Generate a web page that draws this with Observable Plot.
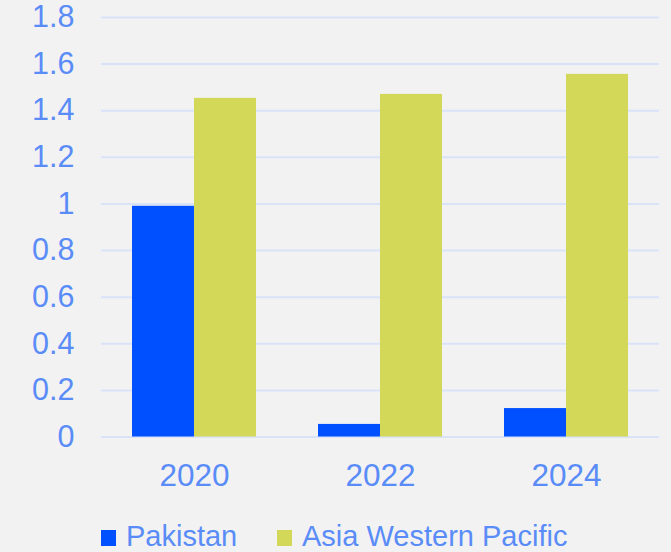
<!DOCTYPE html>
<html>
<head>
<meta charset="utf-8">
<script src="https://cdn.jsdelivr.net/npm/d3@7"></script>
<script src="https://cdn.jsdelivr.net/npm/@observablehq/plot@0.6"></script>
<style>
  html, body { margin: 0; padding: 0; background: #f2f2f2; }
  body { width: 671px; height: 552px; overflow: hidden; font-family: "Liberation Sans", Arial, sans-serif; }
  #legend { position: relative; height: 52px; color: #5a8cf8; font-size: 29px; }
  .item { position: absolute; top: 20px; display: flex; align-items: center; white-space: nowrap; }
  .sw { width: 15px; height: 16px; margin-right: 10px; margin-top: 2px; }
</style>
</head>
<body>
<div id="chart"></div>
<div id="legend"></div>
<script>
const years = ["2020", "2022", "2024"];
const seriesNames = ["Pakistan", "Asia Western Pacific"];
const pakistan = [0.99, 0.054, 0.122];
const asiaWesternPacific = [1.453, 1.47, 1.556];
const yTicks = [0, 0.2, 0.4, 0.6, 0.8, 1, 1.2, 1.4, 1.6, 1.8];
const colors = ["#0050ff", "#d4d858"];

const rows = [];
years.forEach((y, i) => {
  rows.push({year: y, series: seriesNames[0], value: pakistan[i]});
  rows.push({year: y, series: seriesNames[1], value: asiaWesternPacific[i]});
});

const textColor = "#5a8cf8";

const chart = Plot.plot({
  width: 671,
  height: 500,
  marginTop: 17,
  marginBottom: 63.5,
  marginLeft: 100,
  marginRight: 11,
  style: {background: "#f2f2f2", fontFamily: "'Liberation Sans', Arial, sans-serif", color: textColor},
  fx: {domain: years, padding: 0, axis: null},
  x: {domain: seriesNames, axis: null, paddingInner: 0, paddingOuter: 0.49},
  y: {domain: [0, 1.8], axis: null},
  color: {domain: seriesNames, range: colors},
  marks: [
    Plot.ruleY(yTicks, {stroke: "#d9e3f7", strokeWidth: 2}),
    Plot.barY(rows, {fx: "year", x: "series", y: "value", fill: "series", inset: 0}),
    Plot.axisY({ticks: yTicks, tickSize: 0, tickPadding: 27, fontSize: 30.5, fill: textColor,
      tickFormat: d => String(+d.toFixed(1)), label: null}),
    Plot.axisFx({anchor: "bottom", tickSize: 0, tickPadding: 27, fontSize: 31.5, fill: textColor, label: null})
  ]
});
document.getElementById("chart").appendChild(chart);

const legend = document.getElementById("legend");
const positions = [101, 277];
seriesNames.forEach((name, i) => {
  const item = document.createElement("div");
  item.className = "item";
  item.style.left = positions[i] + "px";
  const sw = document.createElement("span");
  sw.className = "sw";
  sw.style.background = colors[i];
  const t = document.createElement("span");
  t.textContent = name;
  item.appendChild(sw);
  item.appendChild(t);
  legend.appendChild(item);
});
</script>
</body>
</html>
